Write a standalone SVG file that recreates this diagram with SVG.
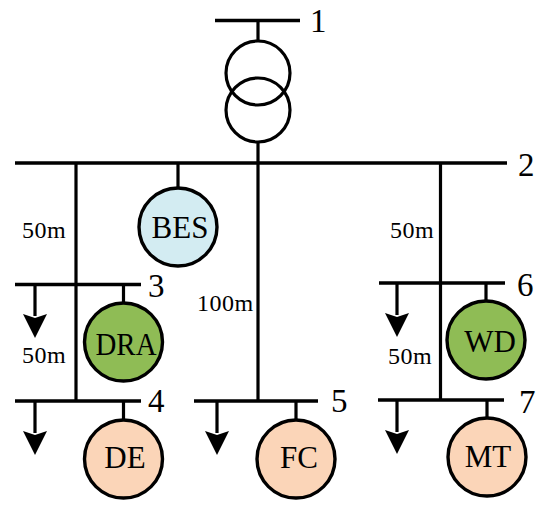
<svg xmlns="http://www.w3.org/2000/svg" width="550" height="511" viewBox="0 0 550 511">
<style>
.w{stroke:#000;fill:none;stroke-width:3.2}
.bus{stroke:#000;fill:none;stroke-width:3.6}
.n{stroke:#000;stroke-width:3.4}
.head{fill:#000;stroke:none}
text{font-family:"Liberation Serif","Times New Roman",serif;fill:#000}
.l{font-size:31px;text-anchor:middle}
.num{font-size:33px}
.d{font-size:24px;letter-spacing:.5px}
.green{fill:#8fbc55}.peach{fill:#fbd5b8}.blue{fill:#d3ecf2}
</style>
<g id="connectors">
<path class="bus" d="M215 20.500H300M15 163H507M15 284.500H141M15 401H141M194 401H318M379 283H505M378 400H504"/>
<path class="w" d="M258 20V41M258 142V400M76 163V401M440.500 163V400M178 163V188M123.500 284V303M123.500 401V420M296 401V420M486 283V301M487 400V418"/>
<path class="w" d="M35 284V316M35 401V433M217 401V433M397 283V315M397 400V432"/>
<path class="head" d="M23 314L35 318 47 314 35 338ZM23 431L35 435 47 431 35 455ZM205 431L217 435 229 431 217 455ZM385 313L397 317 409 313 397 337ZM385 430L397 434 409 430 397 454Z"/>
</g>
<g id="transformer"><circle class="w" cx="258" cy="73" r="32"/><circle class="w" cx="258" cy="110" r="32"/></g>
<g id="bus-labels">
<text class="num" x="310" y="32">1</text><text class="num" x="518" y="176">2</text><text class="num" x="148" y="297">3</text><text class="num" x="148" y="412">4</text><text class="num" x="331" y="412">5</text><text class="num" x="517" y="296">6</text><text class="num" x="519" y="413">7</text>
</g>
<g id="dist-labels">
<text class="d" x="22" y="238">50m</text><text class="d" x="390" y="238">50m</text><text class="d" x="22" y="363">50m</text><text class="d" x="388" y="364">50m</text><text class="d" x="197" y="311">100m</text>
</g>
<g id="BES"><circle class="n blue" cx="178" cy="227" r="39"/><text class="l" x="180" y="238">BES</text></g>
<g id="DRA"><circle class="n green" cx="123.500" cy="342" r="39"/><text class="l" x="126" y="355" textLength="61" lengthAdjust="spacingAndGlyphs">DRA</text></g>
<g id="DE"><circle class="n peach" cx="123.500" cy="459" r="39"/><text class="l" x="125" y="468">DE</text></g>
<g id="FC"><circle class="n peach" cx="296" cy="459" r="39"/><text class="l" x="299" y="468">FC</text></g>
<g id="WD"><circle class="n green" cx="486" cy="340" r="39"/><text class="l" x="490" y="352">WD</text></g>
<g id="MT"><circle class="n peach" cx="487" cy="457" r="39"/><text class="l" x="488" y="467">MT</text></g>
</svg>
